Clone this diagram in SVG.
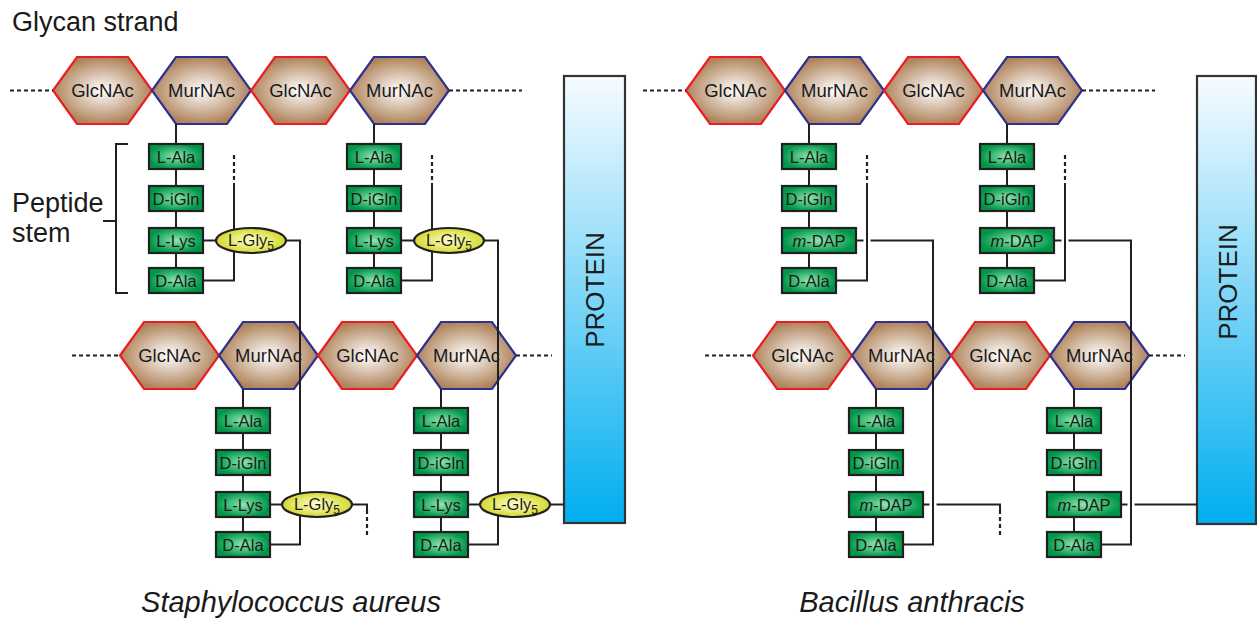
<svg xmlns="http://www.w3.org/2000/svg" width="1257" height="622" viewBox="0 0 1257 622">
<defs>
<radialGradient id="hexg" cx="50%" cy="50%" r="50%"><stop offset="0" stop-color="#ffffff"/><stop offset="1" stop-color="#b0845b"/></radialGradient>
<radialGradient id="boxg" cx="50%" cy="50%" r="50%"><stop offset="0" stop-color="#8ee6b0"/><stop offset="1" stop-color="#009649"/></radialGradient>
<radialGradient id="glyg" cx="50%" cy="50%" r="50%"><stop offset="0" stop-color="#ffffd2"/><stop offset="1" stop-color="#d4d82c"/></radialGradient>
<linearGradient id="protg" x1="0" y1="0" x2="0" y2="1"><stop offset="0" stop-color="#f7fcff"/><stop offset="1" stop-color="#00aeef"/></linearGradient>
<style>
text{font-family:"Liberation Sans",Arial,sans-serif;fill:#1a1a1a}
.glc{fill:url(#hexg);stroke:#ed1c24;stroke-width:2.2}
.mur{fill:url(#hexg);stroke:#2e3192;stroke-width:2.2}
.box{fill:url(#boxg);stroke:#231f20;stroke-width:2.2}
.gly{fill:url(#glyg);stroke:#231f20;stroke-width:2.2}
.prot{fill:url(#protg);stroke:#333333;stroke-width:2.2}
.ln{fill:none;stroke:#231f20;stroke-width:2}
.dot{fill:none;stroke:#231f20;stroke-width:2.2;stroke-dasharray:4 3}
.h{font-size:18.5px;text-anchor:middle}
.b{font-size:16.5px;text-anchor:middle}
.sub{font-size:12px}
.lab{font-size:27px}
.sp{font-size:29px;font-style:italic;text-anchor:middle}
.pt{font-size:26px;text-anchor:middle}
</style>
</defs>

<!-- labels -->
<text class="lab" x="12" y="31">Glycan strand</text>
<text class="lab" x="12" y="212">Peptide</text>
<text class="lab" x="12" y="242">stem</text>
<text class="sp" x="291" y="612">Staphylococcus aureus</text>
<text class="sp" x="912" y="612">Bacillus anthracis</text>
<path class="ln" d="M128,144 H116 V293 H128 M103,221 H116"/>

<!-- hexagons left top -->
<g id="l-glc1"><polygon class="glc" points="53,90.5 77,57 128,57 152,90.5 128,124 77,124"/><text class="h" x="102.5" y="97">GlcNAc</text></g>
<g id="l-mur1"><polygon class="mur" points="152,90.5 176,57 227,57 251,90.5 227,124 176,124"/><text class="h" x="201.5" y="97">MurNAc</text></g>
<g id="l-glc2"><polygon class="glc" points="251,90.5 275,57 326,57 350,90.5 326,124 275,124"/><text class="h" x="300.5" y="97">GlcNAc</text></g>
<g id="l-mur2"><polygon class="mur" points="350,90.5 374,57 425,57 449,90.5 425,124 374,124"/><text class="h" x="399.5" y="97">MurNAc</text></g>
<!-- hexagons left bottom -->
<g id="l-glc3"><polygon class="glc" points="120,355.5 144,322 195,322 219,355.5 195,389 144,389"/><text class="h" x="169.5" y="362">GlcNAc</text></g>
<g id="l-mur3"><polygon class="mur" points="219,355.5 243,322 294,322 318,355.5 294,389 243,389"/><text class="h" x="268.5" y="362">MurNAc</text></g>
<g id="l-glc4"><polygon class="glc" points="318,355.5 342,322 393,322 417,355.5 393,389 342,389"/><text class="h" x="367.5" y="362">GlcNAc</text></g>
<g id="l-mur4"><polygon class="mur" points="417,355.5 441,322 492,322 516,355.5 492,389 441,389"/><text class="h" x="466.5" y="362">MurNAc</text></g>
<!-- hexagons right top -->
<g id="r-glc1"><polygon class="glc" points="686,90.5 710,57 761,57 785,90.5 761,124 710,124"/><text class="h" x="735.5" y="97">GlcNAc</text></g>
<g id="r-mur1"><polygon class="mur" points="785,90.5 809,57 860,57 884,90.5 860,124 809,124"/><text class="h" x="834.5" y="97">MurNAc</text></g>
<g id="r-glc2"><polygon class="glc" points="884,90.5 908,57 959,57 983,90.5 959,124 908,124"/><text class="h" x="933.5" y="97">GlcNAc</text></g>
<g id="r-mur2"><polygon class="mur" points="983,90.5 1007,57 1058,57 1082,90.5 1058,124 1007,124"/><text class="h" x="1032.5" y="97">MurNAc</text></g>
<!-- hexagons right bottom -->
<g id="r-glc3"><polygon class="glc" points="753,355.5 777,322 828,322 852,355.5 828,389 777,389"/><text class="h" x="802.5" y="362">GlcNAc</text></g>
<g id="r-mur3"><polygon class="mur" points="852,355.5 876,322 927,322 951,355.5 927,389 876,389"/><text class="h" x="901.5" y="362">MurNAc</text></g>
<g id="r-glc4"><polygon class="glc" points="951,355.5 975,322 1026,322 1050,355.5 1026,389 975,389"/><text class="h" x="1000.5" y="362">GlcNAc</text></g>
<g id="r-mur4"><polygon class="mur" points="1050,355.5 1074,322 1125,322 1149,355.5 1125,389 1074,389"/><text class="h" x="1099.5" y="362">MurNAc</text></g>

<!-- proteins -->
<g id="l-protein"><rect class="prot" x="564" y="76" width="61" height="447"/><text class="pt" transform="translate(604,290) rotate(-90)">PROTEIN</text></g>
<g id="r-protein"><rect class="prot" x="1197" y="76" width="59" height="448"/><text class="pt" transform="translate(1237,282) rotate(-90)">PROTEIN</text></g>

<!-- connectors -->
<g id="connectors">
<path class="dot" d="M10,90.5 H53 M449,90.5 H522 M72,355.5 H120 M516,355.5 H552 M643,90.5 H686 M1082,90.5 H1155 M705,355.5 H753 M1149,355.5 H1185"/>
<path class="dot" d="M234,155 V183 M432,155 V183 M367,510 V536 M867,155 V183 M1065,155 V183 M1000,510 V536"/>
<!-- left panel -->
<path class="ln" d="M176,124 V268 M374,124 V268 M243,389 V532 M441,389 V532"/>
<path class="ln" d="M234,183 V280.5 H203 M203,240.5 H300 V544.5 H270"/>
<path class="ln" d="M432,183 V280.5 H401 M401,240.5 H498 V544.5 H468"/>
<path class="ln" d="M270,504.5 H367 V510 M468,504.5 H564"/>
<!-- right panel -->
<path class="ln" d="M809,124 V268 M1007,124 V268 M876,389 V532 M1074,389 V532"/>
<path class="ln" d="M867,183 V280.5 H836 M856,240.5 H863.5 M870.5,240.5 H933 V544.5 H903"/>
<path class="ln" d="M1065,183 V280.5 H1034 M1054,240.5 H1061.5 M1068.5,240.5 H1131 V544.5 H1101"/>
<path class="ln" d="M923,504.5 H929.5 M936.5,504.5 H1000 V510 M1121,504.5 H1127.5 M1134.5,504.5 H1197"/>
</g>

<!-- left top stem 1 -->
<g id="l-ala1"><rect class="box" x="149" y="144" width="54" height="25"/><text class="b" x="176" y="162.5">L-Ala</text></g>
<g id="l-dgln1"><rect class="box" x="149" y="186" width="54" height="25"/><text class="b" x="176" y="204.5">D-iGln</text></g>
<g id="l-lys1"><rect class="box" x="149" y="228" width="54" height="25"/><text class="b" x="176" y="246.5">L-Lys</text></g>
<g id="l-dala1"><rect class="box" x="149" y="268" width="54" height="25"/><text class="b" x="176" y="286.5">D-Ala</text></g>
<g id="l-gly1"><ellipse class="gly" cx="251" cy="240.5" rx="35" ry="12.5"/><text class="b" x="251" y="246">L-Gly<tspan class="sub" dy="4">5</tspan></text></g>
<!-- left top stem 2 -->
<g id="l-ala2"><rect class="box" x="347" y="144" width="54" height="25"/><text class="b" x="374" y="162.5">L-Ala</text></g>
<g id="l-dgln2"><rect class="box" x="347" y="186" width="54" height="25"/><text class="b" x="374" y="204.5">D-iGln</text></g>
<g id="l-lys2"><rect class="box" x="347" y="228" width="54" height="25"/><text class="b" x="374" y="246.5">L-Lys</text></g>
<g id="l-dala2"><rect class="box" x="347" y="268" width="54" height="25"/><text class="b" x="374" y="286.5">D-Ala</text></g>
<g id="l-gly2"><ellipse class="gly" cx="449" cy="240.5" rx="35" ry="12.5"/><text class="b" x="449" y="246">L-Gly<tspan class="sub" dy="4">5</tspan></text></g>
<!-- left bottom stem 1 -->
<g id="l-ala3"><rect class="box" x="216" y="408" width="54" height="25"/><text class="b" x="243" y="426.5">L-Ala</text></g>
<g id="l-dgln3"><rect class="box" x="216" y="450" width="54" height="25"/><text class="b" x="243" y="468.5">D-iGln</text></g>
<g id="l-lys3"><rect class="box" x="216" y="492" width="54" height="25"/><text class="b" x="243" y="510.5">L-Lys</text></g>
<g id="l-dala3"><rect class="box" x="216" y="532" width="54" height="25"/><text class="b" x="243" y="550.5">D-Ala</text></g>
<g id="l-gly3"><ellipse class="gly" cx="317" cy="504.5" rx="35" ry="12.5"/><text class="b" x="317" y="510">L-Gly<tspan class="sub" dy="4">5</tspan></text></g>
<!-- left bottom stem 2 -->
<g id="l-ala4"><rect class="box" x="414" y="408" width="54" height="25"/><text class="b" x="441" y="426.5">L-Ala</text></g>
<g id="l-dgln4"><rect class="box" x="414" y="450" width="54" height="25"/><text class="b" x="441" y="468.5">D-iGln</text></g>
<g id="l-lys4"><rect class="box" x="414" y="492" width="54" height="25"/><text class="b" x="441" y="510.5">L-Lys</text></g>
<g id="l-dala4"><rect class="box" x="414" y="532" width="54" height="25"/><text class="b" x="441" y="550.5">D-Ala</text></g>
<g id="l-gly4"><ellipse class="gly" cx="515" cy="504.5" rx="35" ry="12.5"/><text class="b" x="515" y="510">L-Gly<tspan class="sub" dy="4">5</tspan></text></g>

<!-- right top stem 1 -->
<g id="r-ala1"><rect class="box" x="782" y="144" width="54" height="25"/><text class="b" x="809" y="162.5">L-Ala</text></g>
<g id="r-dgln1"><rect class="box" x="782" y="186" width="54" height="25"/><text class="b" x="809" y="204.5">D-iGln</text></g>
<g id="r-dap1"><rect class="box" x="782" y="228" width="74" height="25"/><text class="b" x="819" y="246.5"><tspan font-style="italic">m</tspan>-DAP</text></g>
<g id="r-dala1"><rect class="box" x="782" y="268" width="54" height="25"/><text class="b" x="809" y="286.5">D-Ala</text></g>
<!-- right top stem 2 -->
<g id="r-ala2"><rect class="box" x="980" y="144" width="54" height="25"/><text class="b" x="1007" y="162.5">L-Ala</text></g>
<g id="r-dgln2"><rect class="box" x="980" y="186" width="54" height="25"/><text class="b" x="1007" y="204.5">D-iGln</text></g>
<g id="r-dap2"><rect class="box" x="980" y="228" width="74" height="25"/><text class="b" x="1017" y="246.5"><tspan font-style="italic">m</tspan>-DAP</text></g>
<g id="r-dala2"><rect class="box" x="980" y="268" width="54" height="25"/><text class="b" x="1007" y="286.5">D-Ala</text></g>
<!-- right bottom stem 1 -->
<g id="r-ala3"><rect class="box" x="849" y="408" width="54" height="25"/><text class="b" x="876" y="426.5">L-Ala</text></g>
<g id="r-dgln3"><rect class="box" x="849" y="450" width="54" height="25"/><text class="b" x="876" y="468.5">D-iGln</text></g>
<g id="r-dap3"><rect class="box" x="849" y="492" width="74" height="25"/><text class="b" x="886" y="510.5"><tspan font-style="italic">m</tspan>-DAP</text></g>
<g id="r-dala3"><rect class="box" x="849" y="532" width="54" height="25"/><text class="b" x="876" y="550.5">D-Ala</text></g>
<!-- right bottom stem 2 -->
<g id="r-ala4"><rect class="box" x="1047" y="408" width="54" height="25"/><text class="b" x="1074" y="426.5">L-Ala</text></g>
<g id="r-dgln4"><rect class="box" x="1047" y="450" width="54" height="25"/><text class="b" x="1074" y="468.5">D-iGln</text></g>
<g id="r-dap4"><rect class="box" x="1047" y="492" width="74" height="25"/><text class="b" x="1084" y="510.5"><tspan font-style="italic">m</tspan>-DAP</text></g>
<g id="r-dala4"><rect class="box" x="1047" y="532" width="54" height="25"/><text class="b" x="1074" y="550.5">D-Ala</text></g>
</svg>
